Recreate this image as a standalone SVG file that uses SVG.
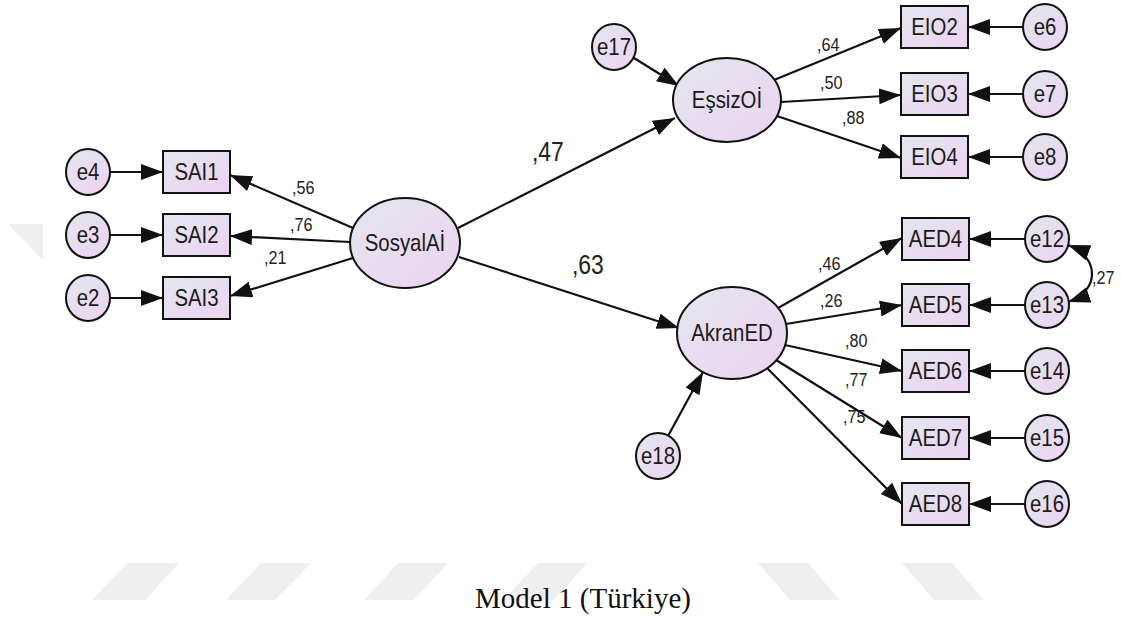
<svg xmlns="http://www.w3.org/2000/svg" width="1121" height="626" viewBox="0 0 1121 626">
  <defs>
    <linearGradient id="fillGrad" x1="0" y1="0" x2="1" y2="1">
      <stop offset="0" stop-color="#e3e6ef"/>
      <stop offset="1" stop-color="#edd3f1"/>
    </linearGradient>
    <marker id="ah" markerUnits="userSpaceOnUse" markerWidth="24" markerHeight="18" refX="22" refY="8" orient="auto">
      <path d="M0,0 L22,8 L0,16 z" fill="#111"/>
    </marker>
    <marker id="ah2" markerUnits="userSpaceOnUse" markerWidth="24" markerHeight="18" refX="22" refY="8" orient="auto-start-reverse">
      <path d="M0,0 L22,8 L0,16 z" fill="#111"/>
    </marker>
  </defs>
  <style>
    .n { fill: url(#fillGrad); stroke: #111; stroke-width: 2; }
    .t { font-family: "Liberation Sans", Arial, sans-serif; font-size: 24px; text-anchor: middle; fill: #1a1a1a;
         transform-box: fill-box; transform-origin: 50% 50%; transform: scaleX(0.85); }
    .conn line { stroke: #111; stroke-width: 2.2; fill: none; marker-end: url(#ah); }
    .conn path { stroke: #111; stroke-width: 2.2; fill: none; marker-start: url(#ah2); marker-end: url(#ah2); }
    .w { font-family: "Liberation Sans", Arial, sans-serif; font-size: 19px; fill: #222;
         transform-box: fill-box; transform-origin: 0 50%; transform: scaleX(0.85); }
    .w2 { font-size: 27px; }
    .cap { font-family: "Liberation Serif", "Times New Roman", serif; font-size: 29px; text-anchor: middle; fill: #111; }
    .wm { fill: #efefef; }
  </style>

  <rect width="1121" height="626" fill="#ffffff"/>

  <!-- faint page watermark -->
  <g id="watermark">
    <polygon class="wm" points="8,224 43,224 43,260"/>
    <polygon class="wm" points="127,563 179,563 145,600 92,600"/>
    <polygon class="wm" points="261,563 311,563 275,600 226,600"/>
    <polygon class="wm" points="398,563 448,563 414,600 364,600"/>
    <polygon class="wm" points="538,563 588,563 553,600 503,600"/>
    <polygon class="wm" points="758,563 808,563 840,600 790,600"/>
    <polygon class="wm" points="902,563 952,563 984,600 934,600"/>
  </g>

  <!-- connectors -->
  <g id="connectors" class="conn">
    <line x1="110" y1="172" x2="163" y2="172"/>
    <line x1="110" y1="235" x2="163" y2="235"/>
    <line x1="110" y1="298" x2="163" y2="298"/>
    <line x1="353" y1="228" x2="230" y2="175"/>
    <line x1="350" y1="242" x2="230" y2="236"/>
    <line x1="353" y1="258" x2="230" y2="296"/>
    <line x1="458" y1="228" x2="675" y2="118"/>
    <line x1="459" y1="257" x2="679" y2="328"/>
    <line x1="634" y1="58" x2="679" y2="86"/>
    <line x1="774" y1="80" x2="901" y2="28"/>
    <line x1="781" y1="102" x2="901" y2="95"/>
    <line x1="777" y1="116" x2="901" y2="158"/>
    <line x1="1023" y1="27" x2="968" y2="27"/>
    <line x1="1023" y1="94" x2="968" y2="94"/>
    <line x1="1023" y1="157" x2="968" y2="157"/>
    <line x1="778" y1="308" x2="902" y2="238"/>
    <line x1="786" y1="324" x2="902" y2="305"/>
    <line x1="785" y1="345" x2="902" y2="371"/>
    <line x1="776" y1="360" x2="902" y2="438"/>
    <line x1="767" y1="368" x2="902" y2="504"/>
    <line x1="668" y1="436" x2="703" y2="372"/>
    <line x1="1025" y1="239" x2="969" y2="239"/>
    <line x1="1025" y1="305" x2="969" y2="305"/>
    <line x1="1025" y1="371" x2="969" y2="371"/>
    <line x1="1025" y1="438" x2="969" y2="438"/>
    <line x1="1025" y1="504" x2="969" y2="504"/>
    <path d="M1068,245 C1100,257 1100,291 1068,302"/>
  </g>

  <!-- path coefficients -->
  <g id="weights">
    <text class="w" x="292" y="194">,56</text>
    <text class="w" x="290" y="231">,76</text>
    <text class="w" x="264" y="264">,21</text>
    <text class="w w2" x="532" y="161">,47</text>
    <text class="w w2" x="572" y="274">,63</text>
    <text class="w" x="817" y="51">,64</text>
    <text class="w" x="820" y="89">,50</text>
    <text class="w" x="842" y="124">,88</text>
    <text class="w" x="818" y="270">,46</text>
    <text class="w" x="820" y="307">,26</text>
    <text class="w" x="845" y="347">,80</text>
    <text class="w" x="845" y="386">,77</text>
    <text class="w" x="843" y="423">,75</text>
    <text class="w" x="1092" y="284">,27</text>
  </g>

  <!-- latent variables -->
  <g id="SosyalAI"><ellipse class="n" cx="405" cy="243" rx="55" ry="45"/><text class="t" x="405" y="251.5">SosyalAİ</text></g>
  <g id="EssizOI"><ellipse class="n" cx="727" cy="100" rx="54" ry="42"/><text class="t" x="727" y="108.5">EşsizOİ</text></g>
  <g id="AkranED"><ellipse class="n" cx="732" cy="333" rx="55" ry="46"/><text class="t" x="732" y="341.5">AkranED</text></g>

  <!-- observed variables -->
  <g id="SAI1"><rect class="n" x="163" y="151" width="67" height="42"/><text class="t" x="196.5" y="180.5">SAI1</text></g>
  <g id="SAI2"><rect class="n" x="163" y="214" width="67" height="42"/><text class="t" x="196.5" y="243.5">SAI2</text></g>
  <g id="SAI3"><rect class="n" x="163" y="277" width="67" height="42"/><text class="t" x="196.5" y="306.5">SAI3</text></g>
  <g id="EIO2"><rect class="n" x="901" y="6" width="67" height="42"/><text class="t" x="934.5" y="35.5">EIO2</text></g>
  <g id="EIO3"><rect class="n" x="901" y="73" width="67" height="42"/><text class="t" x="934.5" y="102.5">EIO3</text></g>
  <g id="EIO4"><rect class="n" x="901" y="136" width="67" height="42"/><text class="t" x="934.5" y="165.5">EIO4</text></g>
  <g id="AED4"><rect class="n" x="902" y="218" width="67" height="42"/><text class="t" x="935.5" y="247.5">AED4</text></g>
  <g id="AED5"><rect class="n" x="902" y="284" width="67" height="42"/><text class="t" x="935.5" y="313.5">AED5</text></g>
  <g id="AED6"><rect class="n" x="902" y="350" width="67" height="42"/><text class="t" x="935.5" y="379.5">AED6</text></g>
  <g id="AED7"><rect class="n" x="902" y="417" width="67" height="42"/><text class="t" x="935.5" y="446.5">AED7</text></g>
  <g id="AED8"><rect class="n" x="902" y="483" width="67" height="42"/><text class="t" x="935.5" y="512.5">AED8</text></g>

  <!-- error terms -->
  <g id="e4"><ellipse class="n" cx="88" cy="172" rx="22" ry="23"/><text class="t" x="88" y="180.5">e4</text></g>
  <g id="e3"><ellipse class="n" cx="88" cy="235" rx="22" ry="23"/><text class="t" x="88" y="243.5">e3</text></g>
  <g id="e2"><ellipse class="n" cx="88" cy="298" rx="22" ry="23"/><text class="t" x="88" y="306.5">e2</text></g>
  <g id="e17"><ellipse class="n" cx="614" cy="47" rx="22" ry="23"/><text class="t" x="614" y="55.5">e17</text></g>
  <g id="e18"><ellipse class="n" cx="658" cy="456" rx="22" ry="23"/><text class="t" x="658" y="464.5">e18</text></g>
  <g id="e6"><ellipse class="n" cx="1045" cy="27" rx="22" ry="23"/><text class="t" x="1045" y="35.5">e6</text></g>
  <g id="e7"><ellipse class="n" cx="1045" cy="94" rx="22" ry="23"/><text class="t" x="1045" y="102.5">e7</text></g>
  <g id="e8"><ellipse class="n" cx="1045" cy="157" rx="22" ry="23"/><text class="t" x="1045" y="165.5">e8</text></g>
  <g id="e12"><ellipse class="n" cx="1047" cy="239" rx="22" ry="23"/><text class="t" x="1047" y="247.5">e12</text></g>
  <g id="e13"><ellipse class="n" cx="1047" cy="305" rx="22" ry="23"/><text class="t" x="1047" y="313.5">e13</text></g>
  <g id="e14"><ellipse class="n" cx="1047" cy="371" rx="22" ry="23"/><text class="t" x="1047" y="379.5">e14</text></g>
  <g id="e15"><ellipse class="n" cx="1047" cy="438" rx="22" ry="23"/><text class="t" x="1047" y="446.5">e15</text></g>
  <g id="e16"><ellipse class="n" cx="1047" cy="504" rx="22" ry="23"/><text class="t" x="1047" y="512.5">e16</text></g>

  <text class="cap" x="583" y="608">Model 1 (Türkiye)</text>
</svg>
